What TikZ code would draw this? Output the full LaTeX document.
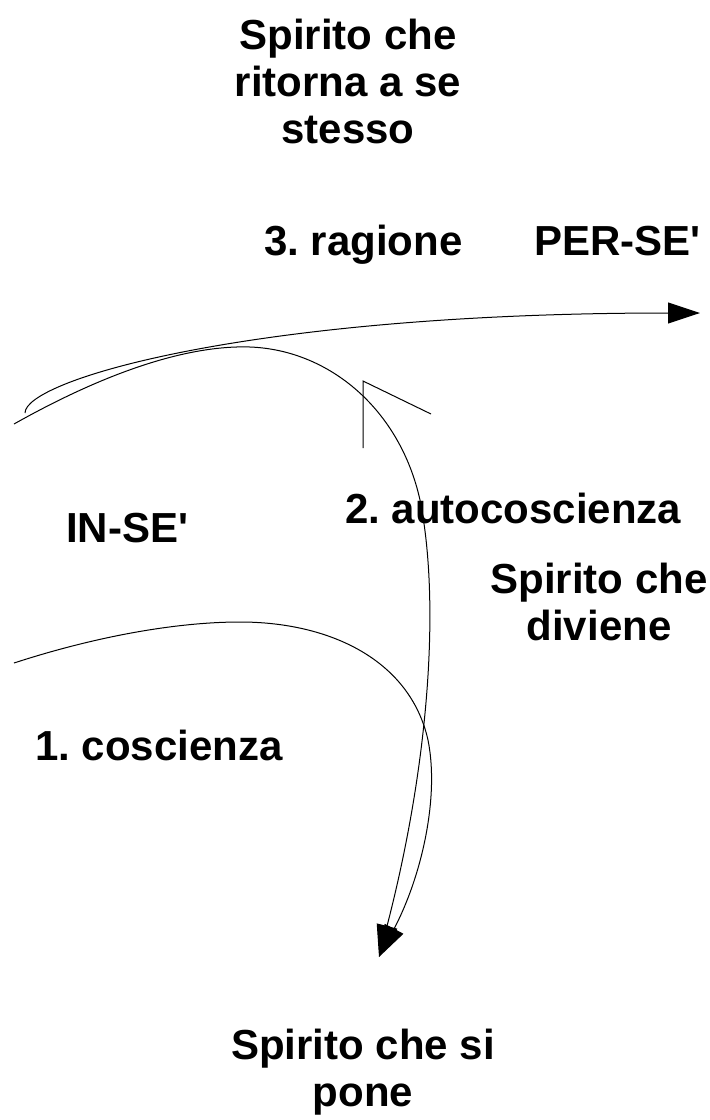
\documentclass[tikz,border=0pt]{standalone}
\usepackage{fontspec}
\setmainfont{Liberation Sans}
\usetikzlibrary{arrows.meta}
\frenchspacing

\begin{document}
\begin{tikzpicture}[x=1pt,y=-1pt,
		word/.style={font=\fontsize{42}{47}\selectfont\bfseries,inner sep=0pt},
		curve/.style={line width=1pt},
		head/.style={-{Triangle[length=32pt,width=21pt]}}]
	\useasboundingbox (0,0) rectangle (710,1120);

	% texts (base anchor of a block = its last line)
	\node[word,anchor=base,align=center] (ritorna) at (348,143) {Spirito che\\ritorna a se\\stesso};
	\node[word,anchor=base west] (ragione) at (264,255) {3. ragione};
	\node[word,anchor=base west] (perse) at (534,255) {PER-SE\textquotesingle};
	\node[word,anchor=base west] (inse) at (66,542) {IN-SE\textquotesingle};
	\node[word,anchor=base west] (auto) at (345,523) {2. autocoscienza};
	\node[word,anchor=base,align=center] (diviene) at (599,640) {Spirito che\\diviene};
	\node[word,anchor=base west] (coscienza) at (35,760) {1. coscienza};
	\node[word,anchor=base,align=center] (pone) at (363,1106) {Spirito che si\\pone};

	% end points
	\coordinate (hook) at (25,413);
	\coordinate (perseEnd) at (700,313);
	\coordinate (arcStart) at (14,424);
	\coordinate (arcTop) at (250,347);
	\coordinate (arcTurn) at (420,500);
	\coordinate (poneEnd) at (379,957);
	\coordinate (lowStart) at (14,663);
	\coordinate (lowTop) at (240,622);
	\coordinate (lowTurn) at (428,740);
	\coordinate (vBottom) at (363,448);
	\coordinate (vTip) at (363,381);
	\coordinate (vEnd) at (431,414);

	% arrows
	\draw[curve,head] (hook) .. controls (25,380) and (250,313) .. (perseEnd);
	\draw[curve,head] (arcStart) .. controls (110,370) and (190,345) .. (arcTop)
		.. controls (330,350) and (400,410) .. (arcTurn)
		.. controls (440,600) and (430,760) .. (poneEnd);
	\draw[curve,head] (lowStart) .. controls (100,635) and (180,622) .. (lowTop)
		.. controls (330,622) and (410,660) .. (lowTurn)
		.. controls (440,800) and (420,880) .. (poneEnd);
	\draw[curve] (vBottom) -- (vTip) -- (vEnd);
\end{tikzpicture}
\end{document}
